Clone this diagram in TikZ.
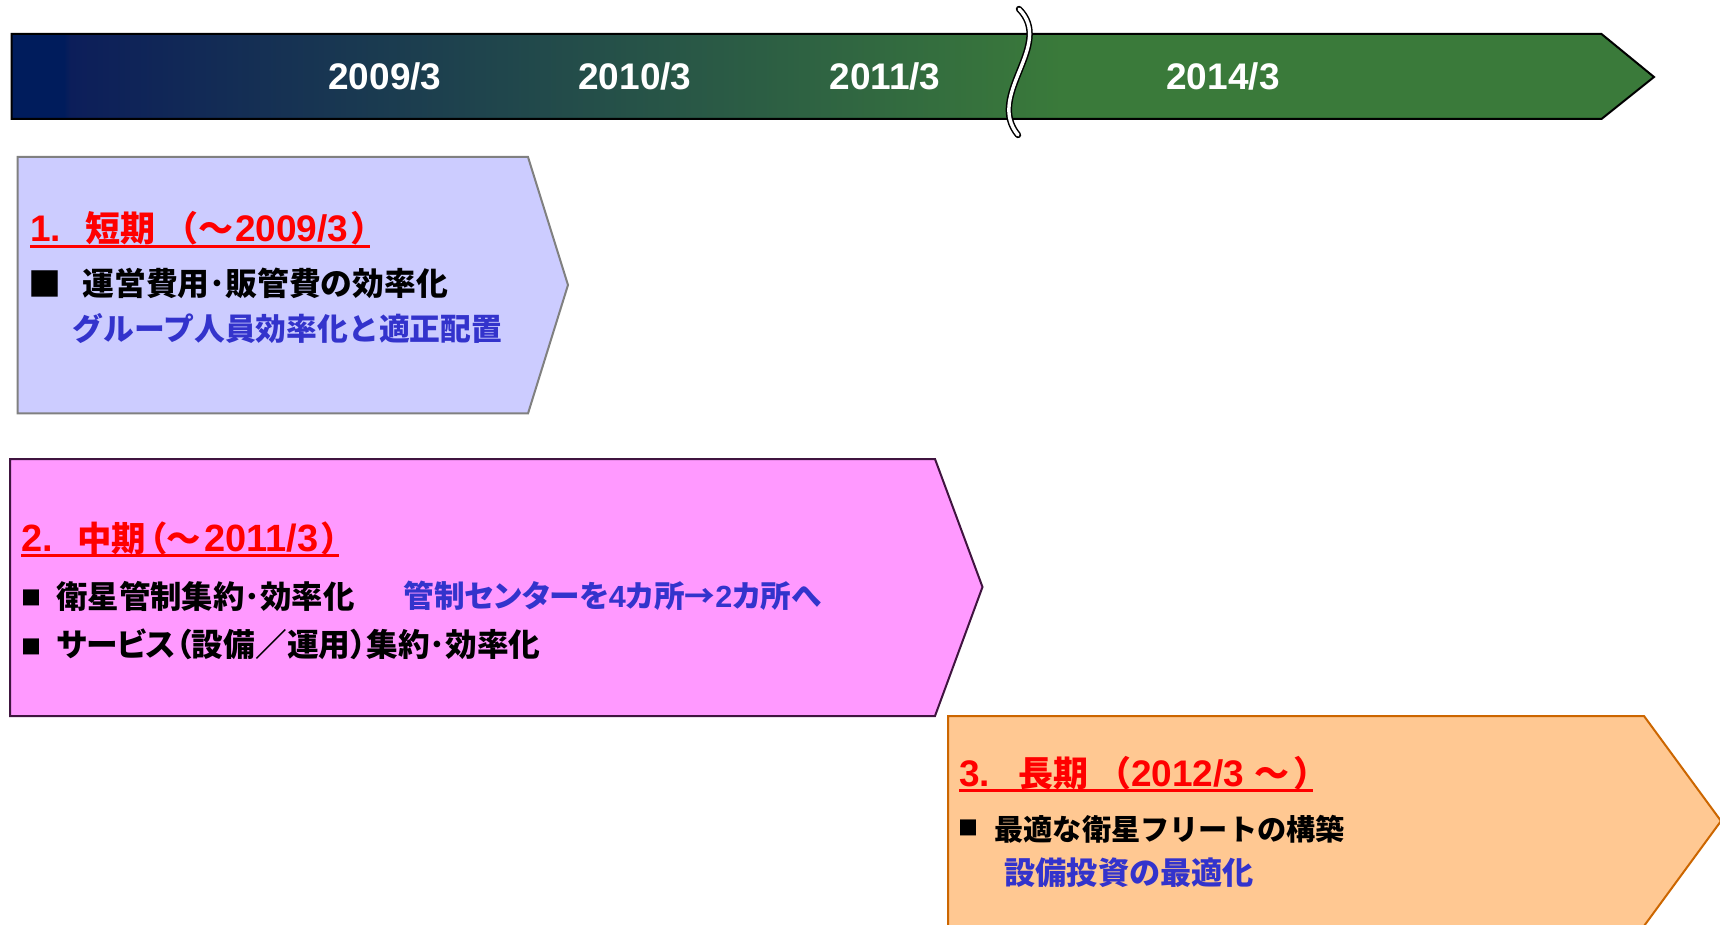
\documentclass[tikz,border=0pt]{standalone}
\usepackage{fontspec}
\setmainfont{Liberation Sans}
\newfontfamily\jp{Noto Sans CJK JP}
\newfontfamily\jpp{Noto Sans CJK JP}[RawFeature=+palt]
\newcommand\J[2]{{\jp\fontsize{#1}{#1}\selectfont #2}}
\newcommand\JP[2]{{\jpp\fontsize{#1}{#1}\selectfont #2}}
\definecolor{navyA}{RGB}{0,28,92}
\definecolor{navyB}{RGB}{12,30,90}
\definecolor{tlgreen}{RGB}{58,122,58}
\definecolor{lav}{RGB}{204,204,255}
\definecolor{pinkF}{RGB}{255,153,255}
\definecolor{pinkD}{RGB}{64,20,64}
\definecolor{peach}{RGB}{255,200,146}
\definecolor{orangeD}{RGB}{204,102,0}
\definecolor{blueT}{RGB}{51,51,204}
\pgfdeclarehorizontalshading{tline}{100bp}{color(0bp)=(navyA); color(25bp)=(navyA); color(26.6bp)=(navyA); color(26.8bp)=(navyB); color(57bp)=(tlgreen); color(100bp)=(tlgreen)}
\begin{document}
\begin{tikzpicture}[x=0.5pt,y=-0.5pt,
  tl/.style={text=white,font=\fontsize{18.5}{20}\selectfont\bfseries,inner sep=0pt},
  ttl/.style={anchor=base west,inner sep=0pt,text=red,font=\fontsize{18.5}{20}\selectfont\bfseries},
  uline/.style={red,line width=1.4pt},
  body/.style={anchor=west,inner sep=0pt,font=\bfseries},
  sq/.style={anchor=center,inner sep=0pt,font=\bfseries},
  chev/.style={line width=1pt}]
\useasboundingbox (0,0) rectangle (1720,925);
\clip (0,0) rectangle (1720,925);
% timeline
\shade[shading=tline] (11.5,34) -- (1601.5,34) -- (1654,77) -- (1601.5,119) -- (11.5,119) -- cycle;
\draw[black,line width=1pt] (11.5,34) -- (1601.5,34) -- (1654,77) -- (1601.5,119) -- (11.5,119) -- cycle;
\node[tl] (y1) at (385,76) {2009/3};
\node[tl] (y2) at (635,76) {2010/3};
\node[tl] (y3) at (885,76) {2011/3};
\node[tl] (y4) at (1223,76) {2014/3};
% break mark
\draw[black,line width=3.2pt,line cap=round] (1019,9) .. controls (1055,45) and (985,95) .. (1018,135);
\draw[white,line width=1.7pt,line cap=round] (1019,9) .. controls (1055,45) and (985,95) .. (1018,135);
% box 1
\draw[chev,fill=lav,draw=gray] (17.5,157) -- (528,157) -- (568,285) -- (528,413.5) -- (17.5,413.5) -- cycle;
\node[ttl] (t1) at (30,241.5) {1.\hspace{12pt}\J{17.5}{短期 （～}\hspace{1pt}2009/3\hspace{2pt}\JP{17.5}{）}};
\draw[uline] ([yshift=-2.5pt]t1.base west) -- ([yshift=-2.5pt]t1.base east);
\node[sq] (s11) at (45,284) {\J{16.5}{■}};
\node[body] (b11) at (82,283) {\J{15.9}{運営費用･販管費の効率化}};
\node[body,text=blueT] (b12) at (72.5,329) {\J{15.4}{グループ人員効率化と適正配置}};
% box 2
\draw[chev,fill=pinkF,draw=pinkD] (10,459) -- (935,459) -- (982.5,587) -- (935,716) -- (10,716) -- cycle;
\node[ttl,font=\fontsize{19}{20}\selectfont\bfseries] (t2) at (21,551.5) {2.\hspace{12pt}\J{17.2}{中期}\hspace{1.5pt}\JP{17.2}{（}\J{17.2}{～}\hspace{2pt}2011/3\hspace{1.5pt}\JP{17.2}{）}};
\draw[uline] ([yshift=-2pt]t2.base west) -- ([yshift=-2pt]t2.base east);
\node[sq] (s21) at (31.5,598) {\J{10}{■}};
\node[body] (b21) at (56,596) {\J{15.7}{衛星管制集約･効率化}};
\node[body,text=blueT] (b22) at (403,596) {\JP{15.3}{管制センターを}{\fontsize{15.3}{16}\selectfont 4}\JP{15.3}{カ所→}{\fontsize{15.3}{16}\selectfont 2}\JP{15.3}{カ所へ}};
\node[sq] (s22) at (31.5,647) {\J{10}{■}};
\node[body] (b23) at (56,644) {\JP{15.85}{サービス（設備／運用）集約･効率化}};
% box 3
\draw[chev,fill=peach,draw=orangeD] (948,716) -- (1644,716) -- (1721,821) -- (1644,926) -- (948,926) -- cycle;
\node[ttl] (t3) at (959,786.5) {3.\hspace{14pt}\J{17.5}{長期 （}2012/3 \J{17.5}{～}\hspace{2.5pt}\JP{17.5}{）}};
\draw[uline] ([yshift=-2pt]t3.base west) -- ([yshift=-2pt]t3.base east);
\node[sq] (s31) at (968.5,828) {\J{10}{■}};
\node[body] (b31) at (994,829) {\J{14.6}{最適な衛星フリートの構築}};
\node[body,text=blueT] (b32) at (1004,873) {\J{15.6}{設備投資の最適化}};
\end{tikzpicture}
\end{document}
